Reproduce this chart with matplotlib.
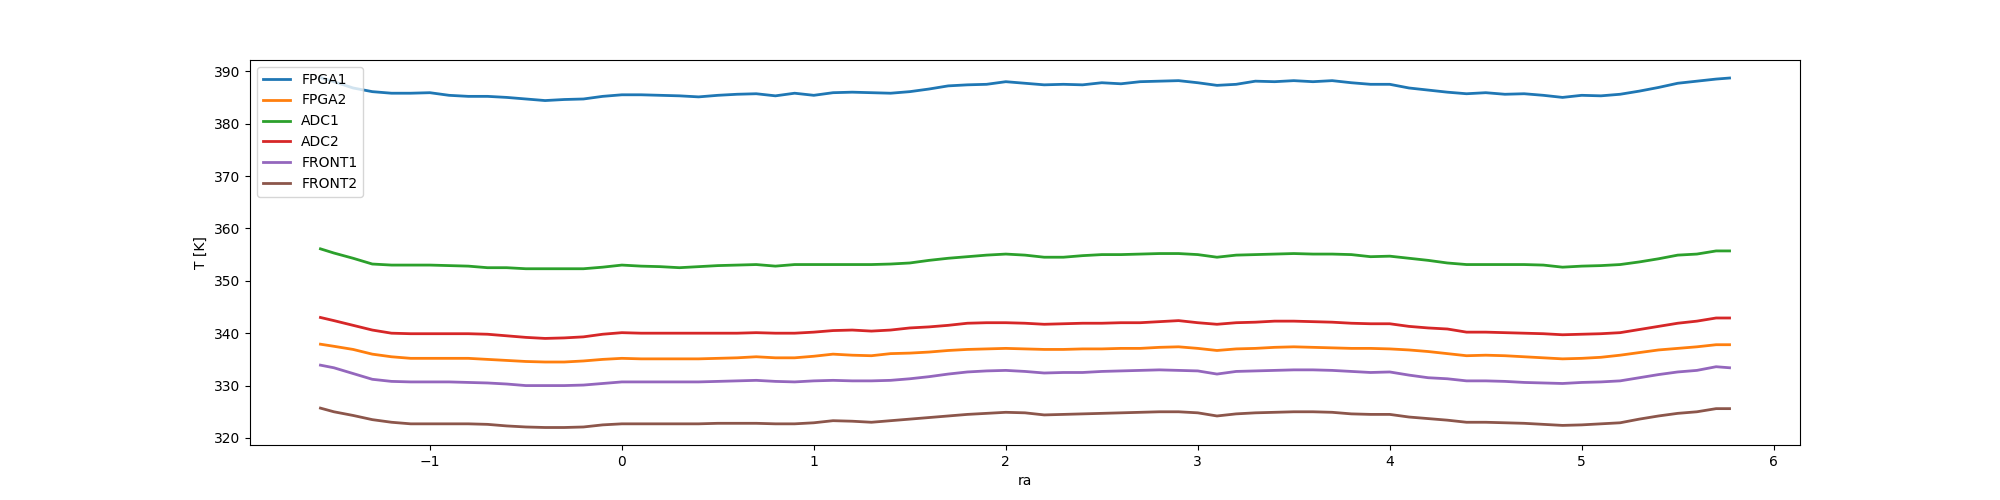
import matplotlib
matplotlib.use("Agg")
import matplotlib.pyplot as plt

# right ascension samples
ra = [-1.57, -1.5, -1.4, -1.3, -1.2, -1.1, -1.0, -0.9, -0.8, -0.7, -0.6,
      -0.5, -0.4, -0.3, -0.2, -0.1, 0.0, 0.1, 0.2, 0.3, 0.4, 0.5, 0.6,
      0.7, 0.8, 0.9, 1.0, 1.1, 1.2, 1.3, 1.4, 1.5, 1.6, 1.7, 1.8, 1.9,
      2.0, 2.1, 2.2, 2.3, 2.4, 2.5, 2.6, 2.7, 2.8, 2.9, 3.0, 3.1, 3.2,
      3.3, 3.4, 3.5, 3.6, 3.7, 3.8, 3.9, 4.0, 4.1, 4.2, 4.3, 4.4, 4.5,
      4.6, 4.7, 4.8, 4.9, 5.0, 5.1, 5.2, 5.3, 5.4, 5.5, 5.6, 5.7, 5.77]

fpga1 = [388.8, 388.0, 386.8, 386.1, 385.8, 385.8, 385.9, 385.4, 385.2, 385.2, 385.0,
         384.7, 384.4, 384.6, 384.7, 385.2, 385.5, 385.5, 385.4, 385.3, 385.1, 385.4, 385.6,
         385.7, 385.3, 385.8, 385.4, 385.9, 386.0, 385.9, 385.8, 386.1, 386.6, 387.2, 387.4, 387.5,
         388.0, 387.7, 387.4, 387.5, 387.4, 387.8, 387.6, 388.0, 388.1, 388.2, 387.8, 387.3, 387.5,
         388.1, 388.0, 388.2, 388.0, 388.2, 387.8, 387.5, 387.5, 386.8, 386.4, 386.0, 385.7, 385.9,
         385.6, 385.7, 385.4, 385.0, 385.4, 385.3, 385.6, 386.2, 386.9, 387.7, 388.1, 388.5, 388.7]

fpga2 = [337.9, 337.5, 336.9, 336.0, 335.5, 335.2, 335.2, 335.2, 335.2, 335.0, 334.8,
         334.6, 334.5, 334.5, 334.7, 335.0, 335.2, 335.1, 335.1, 335.1, 335.1, 335.2, 335.3,
         335.5, 335.3, 335.3, 335.6, 336.0, 335.8, 335.7, 336.1, 336.2, 336.4, 336.7, 336.9, 337.0,
         337.1, 337.0, 336.9, 336.9, 337.0, 337.0, 337.1, 337.1, 337.3, 337.4, 337.1, 336.7, 337.0,
         337.1, 337.3, 337.4, 337.3, 337.2, 337.1, 337.1, 337.0, 336.8, 336.5, 336.1, 335.7, 335.8,
         335.7, 335.5, 335.3, 335.1, 335.2, 335.4, 335.8, 336.3, 336.8, 337.1, 337.4, 337.8, 337.8]

adc1 = [356.1, 355.3, 354.3, 353.2, 353.0, 353.0, 353.0, 352.9, 352.8, 352.5, 352.5,
        352.3, 352.3, 352.3, 352.3, 352.6, 353.0, 352.8, 352.7, 352.5, 352.7, 352.9, 353.0,
        353.1, 352.8, 353.1, 353.1, 353.1, 353.1, 353.1, 353.2, 353.4, 353.9, 354.3, 354.6, 354.9,
        355.1, 354.9, 354.5, 354.5, 354.8, 355.0, 355.0, 355.1, 355.2, 355.2, 355.0, 354.5, 354.9,
        355.0, 355.1, 355.2, 355.1, 355.1, 355.0, 354.6, 354.7, 354.3, 353.9, 353.4, 353.1, 353.1,
        353.1, 353.1, 353.0, 352.6, 352.8, 352.9, 353.1, 353.6, 354.2, 354.9, 355.1, 355.7, 355.7]

adc2 = [343.0, 342.4, 341.5, 340.6, 340.0, 339.9, 339.9, 339.9, 339.9, 339.8, 339.5,
        339.2, 339.0, 339.1, 339.3, 339.8, 340.1, 340.0, 340.0, 340.0, 340.0, 340.0, 340.0,
        340.1, 340.0, 340.0, 340.2, 340.5, 340.6, 340.4, 340.6, 341.0, 341.2, 341.5, 341.9, 342.0,
        342.0, 341.9, 341.7, 341.8, 341.9, 341.9, 342.0, 342.0, 342.2, 342.4, 342.0, 341.7, 342.0,
        342.1, 342.3, 342.3, 342.2, 342.1, 341.9, 341.8, 341.8, 341.3, 341.0, 340.8, 340.2, 340.2,
        340.1, 340.0, 339.9, 339.7, 339.8, 339.9, 340.1, 340.7, 341.3, 341.9, 342.3, 342.9, 342.9]

front1 = [333.9, 333.4, 332.3, 331.2, 330.8, 330.7, 330.7, 330.7, 330.6, 330.5, 330.3,
          330.0, 330.0, 330.0, 330.1, 330.4, 330.7, 330.7, 330.7, 330.7, 330.7, 330.8, 330.9,
          331.0, 330.8, 330.7, 330.9, 331.0, 330.9, 330.9, 331.0, 331.3, 331.7, 332.2, 332.6, 332.8,
          332.9, 332.7, 332.4, 332.5, 332.5, 332.7, 332.8, 332.9, 333.0, 332.9, 332.8, 332.2, 332.7,
          332.8, 332.9, 333.0, 333.0, 332.9, 332.7, 332.5, 332.6, 332.0, 331.5, 331.3, 330.9, 330.9,
          330.8, 330.6, 330.5, 330.4, 330.6, 330.7, 330.9, 331.5, 332.1, 332.6, 332.9, 333.6, 333.4]

front2 = [325.7, 325.0, 324.3, 323.5, 323.0, 322.7, 322.7, 322.7, 322.7, 322.6, 322.3,
          322.1, 322.0, 322.0, 322.1, 322.5, 322.7, 322.7, 322.7, 322.7, 322.7, 322.8, 322.8,
          322.8, 322.7, 322.7, 322.9, 323.3, 323.2, 323.0, 323.3, 323.6, 323.9, 324.2, 324.5, 324.7,
          324.9, 324.8, 324.4, 324.5, 324.6, 324.7, 324.8, 324.9, 325.0, 325.0, 324.8, 324.2, 324.6,
          324.8, 324.9, 325.0, 325.0, 324.9, 324.6, 324.5, 324.5, 324.0, 323.7, 323.4, 323.0, 323.0,
          322.9, 322.8, 322.6, 322.4, 322.5, 322.7, 322.9, 323.6, 324.2, 324.7, 325.0, 325.6, 325.6]

names = ['FPGA1', 'FPGA2', 'ADC1', 'ADC2', 'FRONT1', 'FRONT2']
series = [fpga1, fpga2, adc1, adc2, front1, front2]

fig = plt.figure(figsize=(20, 5), dpi=100)
ax = fig.add_subplot(111)

for name, vals in zip(names, series):
    ax.plot(ra, vals, label=name, lw=2)

ax.set_xlabel('ra')
ax.set_ylabel('T [K]')
ax.legend(loc='upper left')

fig.savefig('out.png', dpi=100)
